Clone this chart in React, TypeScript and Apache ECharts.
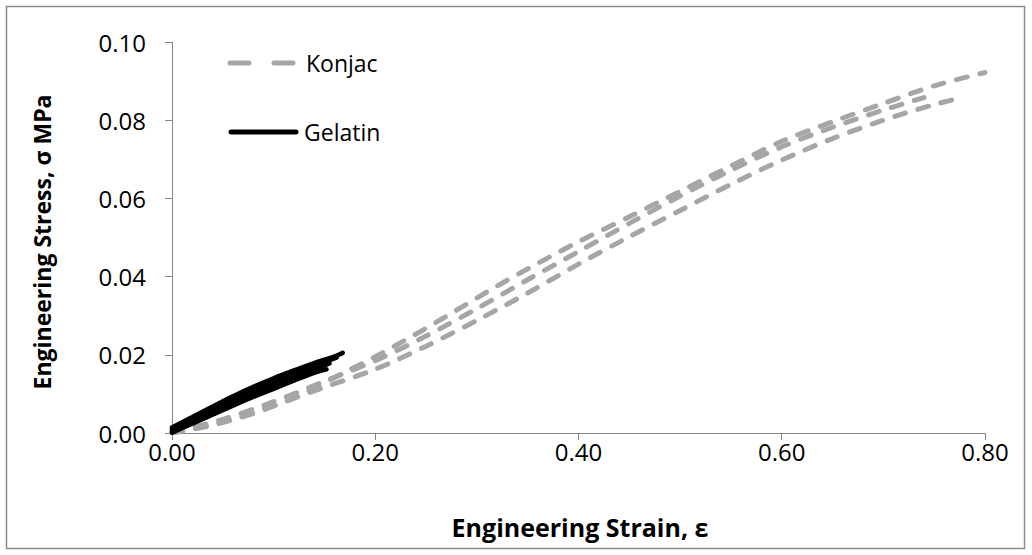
import React, { useEffect, useRef } from "react";
import * as echarts from "echarts";

// Engineering strain (x) vs engineering stress in MPa (y)
const xTickValues = [0, 0.2, 0.4, 0.6, 0.8];
const yTickValues = [0, 0.02, 0.04, 0.06, 0.08, 0.1];

const konjac1: [number, number][] = [
  [0, 0], [0.04, 0.002], [0.08, 0.005], [0.12, 0.009], [0.16, 0.0142],
  [0.2, 0.0195], [0.24, 0.0253], [0.28, 0.0314], [0.32, 0.0376], [0.36, 0.0434],
  [0.4, 0.0489], [0.45, 0.0553], [0.5, 0.0618], [0.55, 0.0683], [0.6, 0.0746],
  [0.65, 0.0796], [0.7, 0.0843], [0.75, 0.0888], [0.8, 0.0922],
];
const konjac2: [number, number][] = [
  [0, 0], [0.05, 0.0035], [0.1, 0.008], [0.15, 0.0132], [0.2, 0.0185],
  [0.25, 0.0248], [0.3, 0.0318], [0.35, 0.0392], [0.4, 0.0464], [0.45, 0.0536],
  [0.5, 0.0606], [0.55, 0.0672], [0.6, 0.0732], [0.65, 0.0782], [0.7, 0.0826],
  [0.74, 0.0858],
];
const konjac3: [number, number][] = [
  [0, 0], [0.05, 0.0028], [0.1, 0.007], [0.15, 0.0117], [0.2, 0.0163],
  [0.25, 0.0222], [0.3, 0.0288], [0.35, 0.0358], [0.4, 0.0432], [0.45, 0.0502],
  [0.5, 0.0569], [0.55, 0.0636], [0.6, 0.0698], [0.65, 0.0753], [0.7, 0.08],
  [0.75, 0.084], [0.778, 0.0858],
];
const gelatin1: [number, number][] = [
  [0, 0.0014], [0.02, 0.0041], [0.04, 0.0068], [0.06, 0.0094], [0.08, 0.0118],
  [0.1, 0.014], [0.12, 0.016], [0.14, 0.0179], [0.16, 0.0196], [0.168, 0.0205],
];
const gelatin2: [number, number][] = [
  [0, 0.001], [0.02, 0.0036], [0.04, 0.0061], [0.06, 0.0086], [0.08, 0.0109],
  [0.1, 0.0131], [0.12, 0.0152], [0.14, 0.0172], [0.162, 0.0193],
];
const gelatin3: [number, number][] = [
  [0, 0.0005], [0.02, 0.003], [0.04, 0.0054], [0.06, 0.0078], [0.08, 0.01],
  [0.1, 0.0122], [0.12, 0.0143], [0.14, 0.0163], [0.155, 0.0178],
];
const gelatin4: [number, number][] = [
  [0, 0.0001], [0.02, 0.0024], [0.04, 0.0047], [0.06, 0.007], [0.08, 0.0092],
  [0.1, 0.0113], [0.12, 0.0134], [0.14, 0.0154], [0.152, 0.0163],
];

const konjacCurves = [konjac1, konjac2, konjac3];
const gelatinCurves = [gelatin1, gelatin2, gelatin3, gelatin4];

const GRAY = "#A6A6A6";
const AXIS = "#868686";
const FONT = "'Open Sans', 'Noto Sans', sans-serif";

export default function App() {
  const ref = useRef<HTMLDivElement>(null);

  useEffect(() => {
    if (!ref.current) return;
    const chart = echarts.init(ref.current, undefined, { renderer: "svg" });

    const konjacSeries = konjacCurves.map((d) => ({
      name: "Konjac",
      type: "line",
      data: d,
      showSymbol: false,
      smooth: 0.3,
      lineStyle: { color: GRAY, width: 5, type: [11, 13], cap: "round" },
      z: 2,
    }));
    const gelatinSeries = gelatinCurves.map((d) => ({
      name: "Gelatin",
      type: "line",
      data: d,
      showSymbol: false,
      smooth: 0.3,
      lineStyle: { color: "#000000", width: 4.5, cap: "round" },
      z: 3,
    }));

    chart.setOption({
      animation: false,
      backgroundColor: "#ffffff",
      grid: { left: 172, right: 47, top: 42, bottom: 122, containLabel: false },
      xAxis: {
        type: "value",
        min: xTickValues[0],
        max: xTickValues[xTickValues.length - 1],
        interval: 0.2,
        axisLine: { lineStyle: { color: AXIS, width: 1 } },
        axisTick: { show: true, length: 7, lineStyle: { color: AXIS } },
        splitLine: { show: false },
        axisLabel: {
          formatter: (v: number) => v.toFixed(2),
          color: "#000",
          fontFamily: FONT,
          fontSize: 24,
          margin: 6,
        },
      },
      yAxis: {
        type: "value",
        min: yTickValues[0],
        max: yTickValues[yTickValues.length - 1],
        interval: 0.02,
        axisLine: { show: true, lineStyle: { color: AXIS, width: 1 } },
        axisTick: { show: true, length: 7, lineStyle: { color: AXIS } },
        splitLine: { show: false },
        axisLabel: {
          formatter: (v: number) => v.toFixed(2),
          color: "#000",
          fontFamily: FONT,
          fontSize: 24,
          margin: 26,
        },
      },
      graphic: [
        {
          type: "rect",
          shape: { x: 6.5, y: 6.5, width: 1018, height: 542 },
          style: { fill: "none", stroke: "#8c8c8c", lineWidth: 1.5 },
          silent: true,
        },
        {
          type: "line",
          shape: { x1: 230, y1: 63, x2: 294, y2: 63 },
          style: { stroke: GRAY, lineWidth: 5, lineDash: [19, 25], lineCap: "round" },
        },
        {
          type: "text",
          x: 306,
          y: 63,
          style: { text: "Konjac", font: `23px ${FONT}`, fill: "#000", verticalAlign: "middle" },
        },
        {
          type: "line",
          shape: { x1: 231, y1: 132, x2: 296, y2: 132 },
          style: { stroke: "#000", lineWidth: 5, lineCap: "round" },
        },
        {
          type: "text",
          x: 304,
          y: 132,
          style: { text: "Gelatin", font: `23px ${FONT}`, fill: "#000", verticalAlign: "middle" },
        },
        {
          type: "text",
          x: 580,
          y: 527,
          style: {
            text: "Engineering Strain, ε",
            font: `bold 25px ${FONT}`,
            fill: "#000",
            align: "center",
            verticalAlign: "middle",
          },
        },
        {
          type: "text",
          x: 42,
          y: 242,
          rotation: Math.PI / 2,
          style: {
            text: "Engineering Stress, σ MPa",
            font: `bold 23px ${FONT}`,
            fill: "#000",
            align: "center",
            verticalAlign: "middle",
          },
        },
      ],
      series: [...konjacSeries, ...gelatinSeries],
    });

    return () => chart.dispose();
  }, []);

  return (
    <div
      ref={ref}
      style={{ position: "fixed", left: 0, top: 0, width: 1032, height: 555, background: "#fff" }}
    />
  );
}
